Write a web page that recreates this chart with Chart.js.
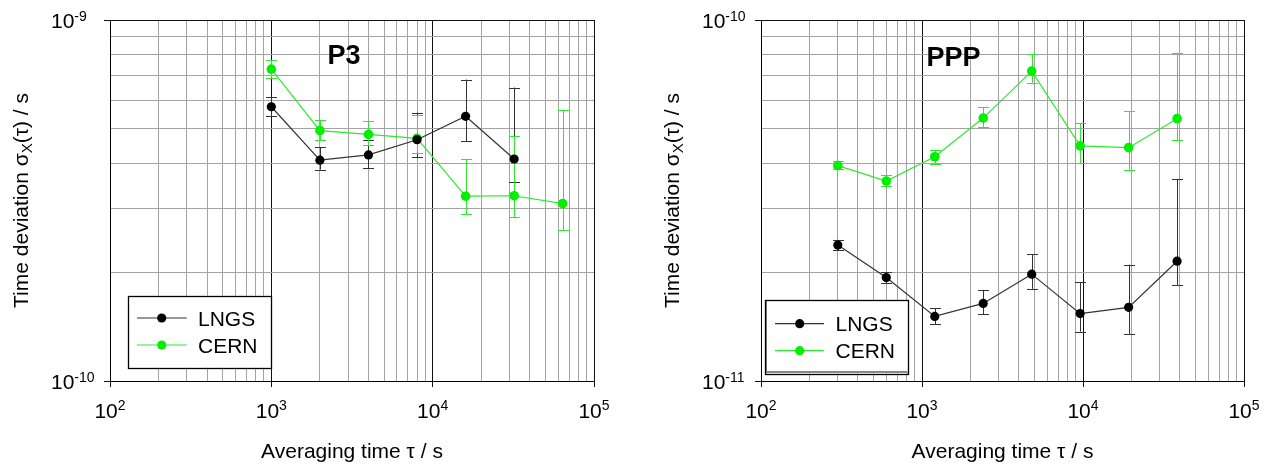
<!DOCTYPE html>
<html><head><meta charset="utf-8">
<script src="https://cdn.jsdelivr.net/npm/chart.js@4.4.1/dist/chart.umd.min.js"></script>
<style>
html,body{margin:0;padding:0;background:#fff;width:1275px;height:466px;overflow:hidden}
.wrap{position:absolute;top:0;height:466px}
#w1{left:0;width:640px}
#w2{left:640px;width:635px}
</style></head><body>
<div class="wrap" id="w1"><canvas id="c1" width="640" height="466"></canvas></div>
<div class="wrap" id="w2"><canvas id="c2" width="635" height="466"></canvas></div>
<script>
// ---------- data ----------
const seriesNames = ["LNGS", "CERN"];
const panelTitles = ["P3", "PPP"];

// Panel P3 (averaging time in s, time deviation in s)
const p3Tau = [1000, 2000, 4000, 8000, 16000, 32000, 64000];
const p3LngsSigma = [5.75e-10, 4.09e-10, 4.23e-10, 4.66e-10, 5.41e-10, 4.12e-10];
const p3LngsHigh  = [6.13e-10, 4.45e-10, 4.66e-10, 5.54e-10, 6.84e-10, 6.50e-10];
const p3LngsLow   = [5.42e-10, 3.85e-10, 3.88e-10, 4.17e-10, 4.61e-10, 3.55e-10];
const p3CernSigma = [7.31e-10, 4.94e-10, 4.82e-10, 4.70e-10, 3.25e-10, 3.26e-10, 3.10e-10];
const p3CernHigh  = [7.73e-10, 5.28e-10, 5.25e-10, 5.45e-10, 4.11e-10, 4.77e-10, 5.64e-10];
const p3CernLow   = [6.92e-10, 4.65e-10, 4.50e-10, 4.29e-10, 2.90e-10, 2.84e-10, 2.62e-10];

// Panel PPP
const pppTau = [300, 600, 1200, 2400, 4800, 9600, 19200, 38400];
const pppLngsSigma = [2.38e-11, 1.934e-11, 1.51e-11, 1.64e-11, 1.977e-11, 1.537e-11, 1.60e-11, 2.147e-11];
const pppLngsHigh  = [2.46e-11, 2.005e-11, 1.593e-11, 1.788e-11, 2.245e-11, 1.877e-11, 2.10e-11, 3.63e-11];
const pppLngsLow   = [2.30e-11, 1.866e-11, 1.436e-11, 1.53e-11, 1.80e-11, 1.37e-11, 1.35e-11, 1.846e-11];
const pppCernSigma = [3.95e-11, 3.58e-11, 4.18e-11, 5.35e-11, 7.22e-11, 4.48e-11, 4.43e-11, 5.33e-11];
const pppCernHigh  = [4.06e-11, 3.71e-11, 4.36e-11, 5.74e-11, 8.06e-11, 5.18e-11, 5.58e-11, 8.12e-11];
const pppCernLow   = [3.86e-11, 3.47e-11, 3.99e-11, 5.04e-11, 6.71e-11, 4.01e-11, 3.85e-11, 4.64e-11];

// axis ticks
const xDecadeExponents = [2, 3, 4, 5];
const p3YDecadeExponents = [-10, -9];
const pppYDecadeExponents = [-11, -10];
const gridMultipliers = [1, 2, 3, 4, 5, 6, 7, 8, 9];

// ---------- helpers ----------
const FONT = '"Liberation Sans", Arial, sans-serif';
const BLACK_LINE = '#333333', BLACK_PT = '#000000';
const GREEN_LINE = '#2ee82e', GREEN_PT = '#00f000';

function gridValues(exps) {
  const out = [];
  for (let k = 0; k < exps.length; k++) {
    const base = Math.pow(10, exps[k]);
    if (k === exps.length - 1) { out.push(base); break; }
    gridMultipliers.forEach(m => out.push(m * base));
  }
  return out;
}
function isDecade(v) {
  const l = Math.log10(v);
  return Math.abs(l - Math.round(l)) < 1e-6;
}
function pts(tau, sig) { return sig.map((s, i) => ({x: tau[i], y: s})); }

function drawPow(ctx, x, y, exp, align) {
  ctx.save();
  ctx.fillStyle = '#000';
  ctx.textBaseline = 'alphabetic';
  ctx.font = '21px ' + FONT;
  const wBase = ctx.measureText('10').width;
  ctx.font = '14px ' + FONT;
  const eStr = exp < 0 ? '-' + (-exp) : String(exp);
  const wExp = ctx.measureText(eStr).width;
  let x0 = align === 'center' ? x - (wBase + wExp) / 2 : x;
  ctx.font = '21px ' + FONT;
  ctx.textAlign = 'left';
  ctx.fillText('10', x0, y);
  ctx.font = '14px ' + FONT;
  ctx.fillText(eStr, x0 + wBase, y - 7.3);
  ctx.restore();
}

const errorBarPlugin = {
  id: 'errorBars',
  beforeDatasetsDraw(chart) {
    const ctx = chart.ctx, xs = chart.scales.x, ys = chart.scales.y;
    chart.data.datasets.forEach(ds => {
      ctx.save();
      ctx.strokeStyle = ds.errColor;
      ctx.lineWidth = 1;
      ds.data.forEach((p, i) => {
        const px = Math.round(xs.getPixelForValue(p.x)) + 0.5;
        const yh = ys.getPixelForValue(ds.errHigh[i]);
        const yl = ys.getPixelForValue(ds.errLow[i]);
        ctx.beginPath();
        ctx.moveTo(px, yh); ctx.lineTo(px, yl);
        ctx.moveTo(px - 5.5, Math.round(yh) + 0.5); ctx.lineTo(px + 5.5, Math.round(yh) + 0.5);
        ctx.moveTo(px - 5.5, Math.round(yl) + 0.5); ctx.lineTo(px + 5.5, Math.round(yl) + 0.5);
        ctx.stroke();
      });
      ctx.restore();
    });
  }
};

const decorPlugin = {
  id: 'decor',
  afterDraw(chart) {
    const o = chart.options.plugins.decor;
    const ctx = chart.ctx, xs = chart.scales.x, ys = chart.scales.y;
    const ca = chart.chartArea;
    // x tick labels
    xDecadeExponents.forEach(e => drawPow(ctx, xs.getPixelForValue(Math.pow(10, e)), 417.7, e, 'center'));
    // y tick labels
    o.yExps.forEach(e => drawPow(ctx, ca.left - 59, ys.getPixelForValue(Math.pow(10, e)) + 8.2, e, 'left'));
    // x title
    ctx.save();
    ctx.fillStyle = '#000';
    ctx.font = '21px ' + FONT;
    ctx.textAlign = 'center';
    ctx.textBaseline = 'alphabetic';
    ctx.fillText('Averaging time \u03c4 / s', (ca.left + ca.right) / 2, 458.3);
    ctx.restore();
    // y title (rotated, with subscript X)
    ctx.save();
    ctx.fillStyle = '#000';
    ctx.translate(ca.left - 82, (ca.top + ca.bottom) / 2);
    ctx.rotate(-Math.PI / 2);
    ctx.textAlign = 'left';
    ctx.textBaseline = 'alphabetic';
    const parts = [['Time deviation \u03c3', 21, 0], ['X', 15, 4], ['(\u03c4) / s', 21, 0]];
    let total = 0;
    parts.forEach(p => { ctx.font = p[1] + 'px ' + FONT; p.push(ctx.measureText(p[0]).width); total += p[3]; });
    let cx = -total / 2;
    parts.forEach(p => { ctx.font = p[1] + 'px ' + FONT; ctx.fillText(p[0], cx, p[2]); cx += p[3]; });
    ctx.restore();
    // panel title
    ctx.save();
    ctx.fillStyle = '#000';
    ctx.font = 'bold 27px ' + FONT;
    ctx.textBaseline = 'alphabetic';
    ctx.fillText(o.title, o.titleX, o.titleY);
    ctx.restore();
    // legend
    const L = o.legend;
    ctx.save();
    ctx.fillStyle = '#fff';
    ctx.fillRect(L.x1, L.y1, L.x2 - L.x1, L.y2 - L.y1);
    if (L.shadow) {
      ctx.strokeStyle = '#888';
      ctx.lineWidth = 2;
      ctx.beginPath();
      ctx.moveTo(L.x1 + 1.5, L.y1); ctx.lineTo(L.x1 + 1.5, L.y2 - 1.5); ctx.lineTo(L.x2, L.y2 - 1.5);
      ctx.stroke();
    }
    ctx.strokeStyle = '#000';
    ctx.lineWidth = 1.3;
    ctx.strokeRect(Math.round(L.x1) + 0.5, Math.round(L.y1) + 0.5, Math.round(L.x2 - L.x1), Math.round(L.y2 - L.y1));
    const lineCols = [BLACK_LINE, GREEN_LINE], ptCols = [BLACK_PT, GREEN_PT];
    seriesNames.forEach((name, i) => {
      const ry = L.rows[i];
      ctx.strokeStyle = lineCols[i];
      ctx.lineWidth = 1.2;
      ctx.beginPath(); ctx.moveTo(L.lx1, ry); ctx.lineTo(L.lx2, ry); ctx.stroke();
      ctx.fillStyle = ptCols[i];
      ctx.beginPath(); ctx.arc(L.mx, ry, 4.6, 0, Math.PI * 2); ctx.fill();
      ctx.fillStyle = '#000';
      ctx.font = '21px ' + FONT;
      ctx.textBaseline = 'alphabetic';
      ctx.fillText(name, L.tx, ry + 7.6);
    });
    ctx.restore();
  }
};

function makeChart(id, cfg) {
  const xg = gridValues(xDecadeExponents);
  const yg = gridValues(cfg.yExps);
  const gridCol = c => (c.tick && isDecade(c.tick.value)) ? '#111' : '#a3a3a3';
  const tickCol = c => (c.tick && isDecade(c.tick.value)) ? '#111' : 'rgba(0,0,0,0)';
  return new Chart(document.getElementById(id), {
    type: 'line',
    data: {
      datasets: [
        {label: seriesNames[0], data: pts(cfg.tauL, cfg.lngs), errHigh: cfg.lngsHi, errLow: cfg.lngsLo,
         errColor: BLACK_LINE, borderColor: BLACK_LINE, borderWidth: 1.2, pointRadius: 4.6,
         pointBackgroundColor: BLACK_PT, pointBorderWidth: 0, tension: 0, fill: false},
        {label: seriesNames[1], data: pts(cfg.tauC, cfg.cern), errHigh: cfg.cernHi, errLow: cfg.cernLo,
         errColor: GREEN_LINE, borderColor: GREEN_LINE, borderWidth: 1.2, pointRadius: 4.8,
         pointBackgroundColor: GREEN_PT, pointBorderWidth: 0, tension: 0, fill: false}
      ]
    },
    options: {
      responsive: false, animation: false, devicePixelRatio: 1,
      layout: {padding: {left: 0, top: 20, right: cfg.padRight, bottom: 0}},
      scales: {
        x: {type: 'logarithmic', min: 100, max: 100000,
            afterBuildTicks: s => { s.ticks = xg.map(v => ({value: v})); },
            afterFit: s => { s.height = 85; },
            ticks: {display: false},
            grid: {color: gridCol, tickColor: tickCol, tickLength: 6, lineWidth: 1, drawTicks: true},
            border: {color: '#000', width: 1}},
        y: {type: 'logarithmic', min: Math.pow(10, cfg.yExps[0]), max: Math.pow(10, cfg.yExps[1]),
            afterBuildTicks: s => { s.ticks = yg.map(v => ({value: v})); },
            afterFit: s => { s.width = cfg.plotLeft; },
            ticks: {display: false},
            grid: {color: gridCol, tickColor: tickCol, tickLength: 6, lineWidth: 1, drawTicks: true},
            border: {color: '#000', width: 1}}
      },
      plugins: {
        legend: {display: false}, tooltip: {enabled: false},
        decor: {yExps: cfg.yExps, title: cfg.title, titleX: cfg.titleX, titleY: cfg.titleY, legend: cfg.legend}
      }
    },
    plugins: [errorBarPlugin, decorPlugin]
  });
}

makeChart('c1', {
  tauL: p3Tau, tauC: p3Tau,
  lngs: p3LngsSigma, lngsHi: p3LngsHigh, lngsLo: p3LngsLow,
  cern: p3CernSigma, cernHi: p3CernHigh, cernLo: p3CernLow,
  yExps: p3YDecadeExponents, plotLeft: 110, padRight: 46,
  title: panelTitles[0], titleX: 327.5, titleY: 64.3,
  legend: {x1: 127.7, y1: 295.7, x2: 270.7, y2: 367.7, lx1: 137, lx2: 186.7, mx: 161.7, rows: [318, 345], tx: 198, shadow: false}
});
makeChart('c2', {
  tauL: pppTau, tauC: pppTau,
  lngs: pppLngsSigma, lngsHi: pppLngsHigh, lngsLo: pppLngsLow,
  cern: pppCernSigma, cernHi: pppCernHigh, cernLo: pppCernLow,
  yExps: pppYDecadeExponents, plotLeft: 121, padRight: 31,
  title: panelTitles[1], titleX: 286.5, titleY: 65.7,
  legend: {x1: 124.5, y1: 300, x2: 267.5, y2: 373.5, lx1: 135, lx2: 184, mx: 159.7, rows: [323.7, 350.7], tx: 195.5, shadow: true}
});
</script>
</body></html>
